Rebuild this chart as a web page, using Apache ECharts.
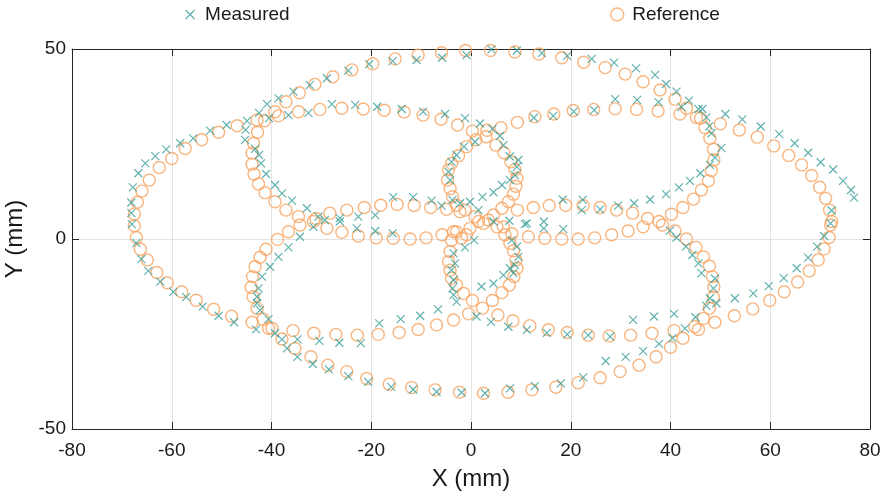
<!DOCTYPE html>
<html><head><meta charset="utf-8">
<script src="https://cdn.jsdelivr.net/npm/echarts@6/dist/echarts.min.js"></script>
<style>html,body{margin:0;padding:0;background:#fff}#c{width:883px;height:498px}</style>
</head><body><div id="c"></div>
<script>
// Axis ticks
const xTicks = [-80,-60,-40,-20,0,20,40,60,80];
const yTicks = [-50,0,50];
const seriesNames = ['Measured','Reference'];

// Reference trajectory, by loop
const refBig = [[-1.1,49.6],[3.9,49.6],[8.8,49.2],[13.6,48.7],[18.2,47.7],[22.6,46.5],[26.9,45.1],[30.9,43.4],[34.5,41.4],[37.9,39.2],[40.9,36.8],[43.2,34.4],[46.0,31.8],[50.0,30.3],[53.8,28.7],[57.4,26.8],[60.7,24.5],[63.7,22.0],[66.3,19.5],[68.3,16.7],[69.9,13.6],[71.1,10.7],[71.9,7.6],[72.3,4.6],[72.1,3.7],[71.8,0.4],[70.8,-2.6],[69.6,-5.5],[67.8,-8.4],[65.5,-11.3],[62.8,-13.9],[59.9,-16.2],[56.5,-18.4],[52.8,-20.2],[48.9,-21.9],[45.6,-23.8],[42.5,-26.1],[40.0,-28.5],[37.1,-31.0],[33.7,-33.2],[29.9,-34.9],[25.9,-36.5],[21.5,-37.8],[17.0,-39.0],[12.2,-39.7],[7.4,-40.3],[2.5,-40.6],[-2.3,-40.3],[-7.2,-39.7],[-11.9,-39.1],[-16.4,-38.2],[-20.9,-36.7],[-24.9,-34.9],[-28.7,-33.2],[-32.1,-31.0],[-35.3,-28.8],[-37.9,-26.3],[-40.6,-23.5],[-43.9,-21.9],[-48.0,-20.3],[-51.6,-18.5],[-55.1,-16.1],[-58.0,-13.9],[-60.9,-11.5],[-63.0,-8.8],[-64.9,-5.5],[-66.3,-2.7],[-67.1,0.4],[-67.5,3.5],[-67.5,6.6],[-66.9,9.7],[-66.0,12.6],[-64.5,15.5],[-62.5,18.8],[-60.0,21.2],[-57.3,23.8],[-54.0,26.1],[-50.6,28.1],[-46.9,29.8],[-42.9,31.3],[-39.3,33.5],[-37.1,36.1],[-34.4,38.5],[-31.3,40.7],[-27.7,42.7],[-23.9,44.5],[-19.7,46.1],[-15.2,47.4],[-10.6,48.4],[-5.9,49.0]];
const refUpper = [[-43.9,19.7],[-43.9,22.6],[-43.6,25.2],[-42.8,28.1],[-41.4,31.1],[-38.6,32.4],[-34.6,33.5],[-30.3,34.1],[-25.9,34.4],[-21.6,34.2],[-17.4,33.9],[-13.4,33.4],[-9.6,32.6],[-6.0,31.5],[-2.7,30.0],[0.3,28.4],[3.2,28.6],[6.0,29.3],[9.3,30.7],[12.8,32.2],[16.6,32.9],[20.5,33.8],[24.6,34.1],[28.9,34.3],[33.2,34.1],[37.5,33.7],[41.9,32.9],[45.2,32.0],[46.9,29.3],[47.9,26.5],[48.6,23.6],[48.7,20.8],[48.2,18.0],[47.6,15.3],[46.2,12.9],[44.6,10.5],[42.5,8.3],[40.2,6.5],[37.7,4.6],[34.5,3.2],[31.5,2.1],[28.2,1.1],[24.8,0.3],[21.5,0.0],[18.2,0.0],[14.8,0.2],[11.5,0.6],[8.2,1.4],[5.2,3.2],[-0.2,2.8],[-2.9,1.9],[-5.8,1.1],[-9.0,0.3],[-12.2,0.0],[-15.6,0.2],[-19.0,0.3],[-22.6,0.8],[-25.9,1.8],[-28.9,2.8],[-31.6,4.6],[-34.6,5.9],[-37.1,7.6],[-39.3,9.8],[-41.3,12.2],[-42.6,14.5],[-43.5,17.1]];
const refLower = [[-38.8,-0.1],[-41.1,-2.7],[-42.3,-4.8],[-43.3,-7.3],[-43.8,-9.9],[-44.1,-12.7],[-43.7,-15.2],[-42.9,-18.2],[-41.7,-21.1],[-39.9,-23.5],[-35.7,-24.1],[-31.5,-24.8],[-27.1,-25.1],[-22.8,-25.3],[-18.6,-25.1],[-14.4,-24.6],[-10.6,-23.8],[-6.9,-22.6],[-3.5,-21.3],[-0.5,-19.7],[5.4,-20.0],[8.4,-21.5],[11.8,-22.8],[15.5,-23.9],[19.3,-24.6],[23.5,-25.3],[27.7,-25.5],[32.0,-25.3],[36.3,-24.8],[40.7,-24.1],[44.9,-23.1],[46.6,-20.9],[47.8,-18.2],[48.6,-15.3],[48.7,-12.6],[48.4,-9.9],[47.8,-7.1],[46.6,-4.7],[45.1,-2.2],[43.2,0.0],[40.9,2.1],[38.4,3.7],[35.4,5.4],[32.4,6.8],[29.2,7.6],[25.9,8.3],[22.5,8.8],[19.0,8.9],[15.7,8.8],[12.5,8.3],[9.3,7.6],[-1.2,7.6],[-4.9,7.8],[-8.1,8.3],[-11.4,8.8],[-14.8,9.1],[-18.1,8.9],[-21.4,8.3],[-24.9,7.6],[-28.3,6.8],[-31.1,5.4],[-34.3,3.7],[-36.6,1.9]];
const refEight = [[1.5,4.6],[3.5,5.0],[4.5,6.3],[6.2,8.1],[7.5,9.8],[8.5,11.8],[9.0,13.9],[9.2,16.0],[8.8,18.3],[8.0,20.3],[6.6,22.7],[5.0,24.7],[3.0,26.9],[1.0,26.1],[-0.9,24.3],[-2.5,21.9],[-3.9,19.9],[-4.5,18.2],[-4.7,15.5],[-4.2,13.3],[-3.7,11.1],[-2.9,8.9],[-2.2,7.2],[0.8,5.9],[-3.5,1.9],[-3.9,-0.3],[-4.2,-3.3],[-4.5,-6.0],[-4.2,-8.2],[-3.9,-10.3],[-2.9,-12.1],[-1.5,-14.3],[0.3,-16.2],[2.3,-18.2],[4.3,-16.2],[6.2,-14.1],[7.7,-12.1],[8.6,-9.9],[9.2,-7.7],[9.0,-5.5],[8.5,-3.1],[7.8,-1.1],[6.8,1.1],[6.5,3.2],[2.5,4.1],[-1.9,0.2],[-0.9,1.1]];

// Measured trajectory, by loop
const measBig = [[-0.9,48.4],[4.1,49.9],[9.2,49.6],[14.2,48.9],[19.3,48.2],[24.2,47.4],[28.7,46.4],[33.1,44.9],[36.9,43.2],[39.1,40.8],[41.2,38.8],[43.7,36.4],[45.6,34.2],[51.0,32.9],[54.4,31.5],[58.1,29.6],[61.8,27.6],[64.9,25.2],[67.6,22.7],[70.1,20.2],[72.6,18.3],[74.6,15.3],[76.2,12.9],[76.8,10.9],[72.3,7.5],[72.1,4.1],[70.8,0.8],[69.4,-2.0],[67.6,-4.9],[65.3,-7.7],[62.7,-10.3],[59.7,-12.4],[56.6,-14.3],[52.9,-15.6],[49.2,-16.9],[45.0,-20.6],[42.9,-23.5],[40.4,-26.1],[37.7,-27.6],[34.5,-29.5],[31.0,-31.0],[27.0,-32.1],[22.5,-36.4],[18.0,-38.0],[12.8,-38.7],[7.8,-39.3],[2.8,-40.6],[-1.9,-40.4],[-6.9,-40.2],[-11.6,-39.6],[-16.0,-38.9],[-20.6,-37.6],[-24.6,-36.1],[-28.5,-34.3],[-31.7,-32.9],[-34.8,-31.0],[-36.9,-28.8],[-39.3,-24.8],[-43.1,-23.8],[-47.5,-21.9],[-50.6,-20.2],[-53.8,-17.8],[-57.1,-15.3],[-59.7,-13.9],[-62.3,-11.2],[-64.7,-8.4],[-66.1,-5.3],[-67.1,-1.1],[-68.0,3.9],[-68.1,6.8],[-68.1,9.6],[-67.8,13.6],[-66.7,17.3],[-65.3,19.9],[-63.3,21.8],[-61.1,23.6],[-58.3,25.2],[-55.7,26.5],[-52.3,28.5],[-49.0,30.0],[-44.9,31.1],[-42.5,33.2],[-40.9,35.5],[-38.6,37.0],[-35.6,38.8],[-32.3,40.5],[-28.9,42.3],[-24.6,44.3],[-20.4,46.0],[-15.7,46.8],[-10.9,47.1],[-5.8,47.7]];
const measUpper = [[-42.1,19.9],[-42.5,22.1],[-43.3,23.7],[-45.3,26.1],[-45.2,28.7],[-40.5,31.8],[-36.6,32.6],[-32.6,33.2],[-27.9,35.5],[-23.2,35.3],[-18.8,34.8],[-13.9,34.2],[-9.6,33.5],[-5.2,32.9],[-1.2,31.8],[1.8,30.4],[4.3,29.0],[12.6,31.9],[16.5,32.4],[20.6,33.5],[24.7,33.9],[28.9,36.8],[33.3,36.6],[37.6,36.0],[42.2,34.7],[46.4,34.2],[47.2,32.0],[47.8,29.7],[48.2,27.8],[50.2,24.0],[48.9,21.4],[47.9,19.5],[46.0,17.3],[43.9,15.3],[41.7,13.6],[39.1,11.8],[25.9,7.8],[22.2,7.6],[18.5,2.6],[14.6,2.8],[14.6,4.6],[11.2,4.1],[7.7,4.8],[-15.7,1.5],[-19.2,2.1],[-22.9,2.8],[-26.3,4.6],[-30.6,5.9],[-32.9,8.1],[-35.9,10.1],[-37.9,12.0],[-39.3,14.2],[-41.1,17.1]];
const measLower = [[-34.3,0.6],[-36.6,-2.2],[-38.6,-4.7],[-40.3,-7.3],[-41.9,-9.9],[-42.6,-13.0],[-42.9,-15.2],[-42.9,-16.9],[-42.3,-18.7],[-40.6,-21.1],[-37.9,-26.4],[-34.8,-26.4],[-30.4,-26.8],[-26.4,-27.3],[-22.1,-27.4],[-18.4,-22.2],[-14.1,-21.1],[-10.2,-20.2],[-6.6,-18.5],[1.1,-20.4],[4.0,-21.8],[7.5,-23.1],[11.2,-23.9],[15.2,-24.7],[19.3,-25.1],[23.5,-25.3],[27.9,-25.7],[32.5,-21.3],[36.7,-20.4],[40.7,-19.7],[47.2,-17.6],[47.9,-15.6],[48.6,-13.0],[48.9,-10.4],[46.2,-9.0],[45.6,-6.4],[44.4,-4.2],[43.1,-2.0],[41.2,0.4],[39.9,2.2],[35.9,10.4],[32.7,9.4],[29.5,8.8],[18.4,10.4],[22.4,10.3],[-5.9,8.8],[-7.9,10.1],[-11.6,11.0],[-15.6,11.0],[-19.2,6.3],[-22.6,5.9],[-26.3,5.5],[-29.3,5.0],[-31.6,3.2]];
const measEight = [[5.8,27.1],[6.5,24.7],[7.8,21.7],[9.5,20.8],[9.2,19.0],[8.8,16.8],[7.8,15.5],[6.2,14.2],[4.5,12.3],[2.3,11.1],[-0.2,9.8],[-2.2,9.4],[-3.7,10.3],[-4.2,15.5],[-4.5,17.7],[-3.9,20.3],[-2.9,22.1],[-1.4,24.3],[0.8,25.6],[1.5,7.6],[4.5,4.6],[0.6,-0.3],[-1.2,-2.2],[-3.5,-3.8],[-3.2,-6.4],[-3.9,-8.2],[-3.5,-10.8],[-3.7,-13.0],[-3.5,-14.7],[-2.9,-16.5],[2.1,-12.5],[4.5,-11.7],[6.5,-9.5],[8.5,-9.0],[7.8,-7.7],[8.8,-6.8],[9.5,-4.7],[9.2,-2.0],[8.2,-0.3],[10.8,3.9]];

const measured = [].concat(measBig, measUpper, measLower, measEight);
const reference = [].concat(refBig, refUpper, refLower, refEight);

const TEAL = '#3a9f98', ORANGE = '#f7a25e';
const FONT = 'Liberation Sans, Arial, Helvetica, sans-serif';
const XPATH = 'path://M0,0L10,10M10,0L0,10';
const chart = echarts.init(document.getElementById('c'), null, {renderer:'canvas'});
const axisCommon = {min: -80, max: 80, interval: 20};
chart.setOption({
  animation: false,
  backgroundColor: '#fff',
  textStyle: {fontFamily: FONT},
  grid: {left: 72, right: 13, top: 49, bottom: 69, containLabel: false, outerBoundsMode: 'none'},
  legend: [
    {data: [{name: seriesNames[0], icon: XPATH}], left: 180, top: 0, itemWidth: 20, itemHeight: 9, itemGap: 8,
     symbolKeepAspect: true,
     textStyle: {fontSize: 19, color: '#1a1a1a', fontFamily: FONT},
     itemStyle: {color: 'transparent', borderColor: TEAL, borderWidth: 1.2}},
    {data: [{name: seriesNames[1], icon: 'circle'}], left: 605, top: 0, itemWidth: 20, itemHeight: 13, itemGap: 8,
     symbolKeepAspect: true,
     textStyle: {fontSize: 19, color: '#1a1a1a', fontFamily: FONT},
     itemStyle: {color: 'transparent', borderColor: ORANGE, borderWidth: 1.4}}
  ],
  xAxis: [
    Object.assign({type: 'value', position: 'bottom', name: 'X (mm)', nameLocation: 'middle', nameGap: 38,
      nameTextStyle: {fontSize: 24, color: '#1a1a1a', fontFamily: FONT},
      axisLine: {show: true, onZero: false, lineStyle: {color: '#262626', width: 1}},
      axisTick: {show: true, inside: true, length: 7, lineStyle: {color: '#262626'}},
      axisLabel: {fontSize: 19, color: '#1a1a1a', margin: 12, fontFamily: FONT,
        customValues: xTicks, formatter: v => String(v)},
      splitLine: {show: true, lineStyle: {color: '#e3e3e3', width: 1}}
    }, axisCommon),
    Object.assign({type: 'value', position: 'top',
      axisLine: {show: true, onZero: false, lineStyle: {color: '#262626', width: 1}},
      axisTick: {show: true, inside: true, length: 7, lineStyle: {color: '#262626'}},
      axisLabel: {show: false}, splitLine: {show: false}
    }, axisCommon)
  ],
  yAxis: [
    {type: 'value', min: -50, max: 50, interval: 50, position: 'left', name: 'Y (mm)', nameLocation: 'middle', nameGap: 25,
      nameTextStyle: {fontSize: 24, color: '#1a1a1a', fontFamily: FONT},
      axisLine: {show: true, onZero: false, lineStyle: {color: '#262626', width: 1}},
      axisTick: {show: true, inside: true, length: 7, lineStyle: {color: '#262626'}},
      axisLabel: {fontSize: 19, color: '#1a1a1a', margin: 6, fontFamily: FONT,
        customValues: yTicks, formatter: v => String(v)},
      splitLine: {show: true, lineStyle: {color: '#e3e3e3', width: 1}}
    },
    {type: 'value', min: -50, max: 50, interval: 50, position: 'right',
      axisLine: {show: true, onZero: false, lineStyle: {color: '#262626', width: 1}},
      axisTick: {show: true, inside: true, length: 7, lineStyle: {color: '#262626'}},
      axisLabel: {show: false}, splitLine: {show: false}
    }
  ],
  series: [
    {name: seriesNames[0], type: 'scatter', xAxisIndex: 0, yAxisIndex: 0, data: measured,
     symbol: XPATH, symbolSize: 8, z: 3,
     itemStyle: {color: 'transparent', borderColor: TEAL, borderWidth: 1.2}},
    {name: seriesNames[1], type: 'scatter', xAxisIndex: 0, yAxisIndex: 0, data: reference,
     symbol: 'circle', symbolSize: 12, z: 2,
     itemStyle: {color: 'transparent', borderColor: ORANGE, borderWidth: 1.4}}
  ]
});
</script></body></html>
